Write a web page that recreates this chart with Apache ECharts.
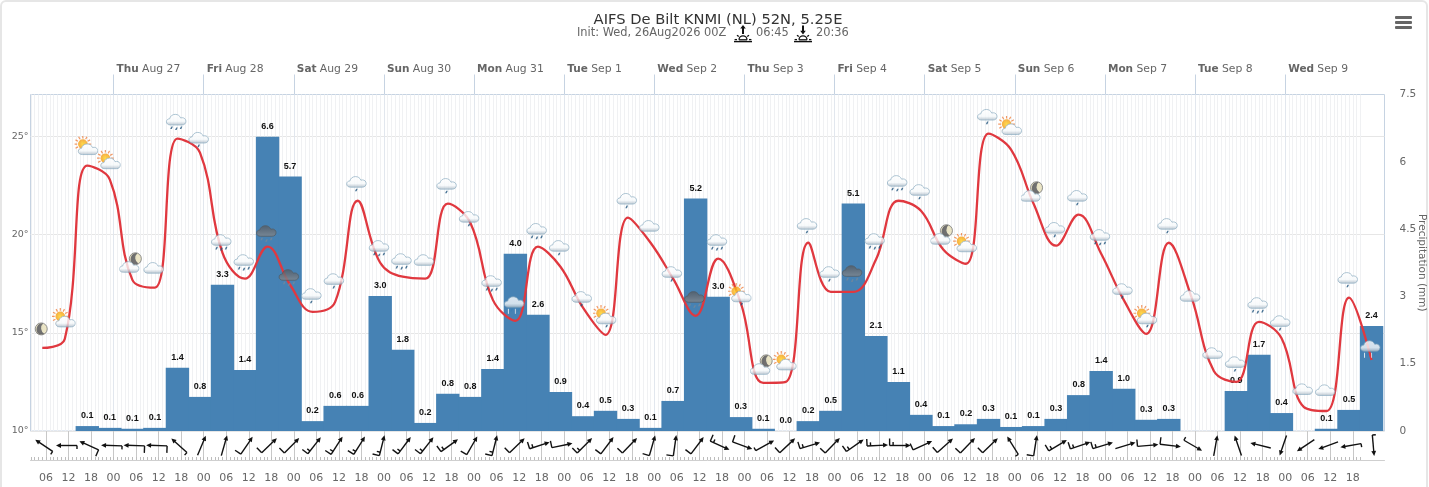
<!DOCTYPE html>
<html><head><meta charset="utf-8">
<style>
html,body{margin:0;padding:0;background:#fff;overflow:hidden}
#card{position:absolute;left:0;top:0;width:1424px;height:490px;border:2px solid #e6e6e6;border-radius:6px;box-sizing:content-box}
#chart{position:absolute;left:0;top:0;width:1429px;height:487px}
</style>
<script src="https://cdn.jsdelivr.net/npm/echarts@6/dist/echarts.min.js"></script>
</head><body><div id="card"></div><div id="chart"></div>
<script>
// ---- data ----
const titleText = 'AIFS De Bilt KNMI (NL) 52N, 5.25E';
const initText = 'Init: Wed, 26Aug2026 00Z';
const sunriseText = '06:45';
const sunsetText = '20:36';
const dayNames = ['Thu|Aug 27','Fri|Aug 28','Sat|Aug 29','Sun|Aug 30','Mon|Aug 31','Tue|Sep 1','Wed|Sep 2','Thu|Sep 3','Fri|Sep 4','Sat|Sep 5','Sun|Sep 6','Mon|Sep 7','Tue|Sep 8','Wed|Sep 9'];
const precipValues = [0.11,0.07,0.05,0.07,1.41,0.76,3.26,1.36,6.56,5.67,0.22,0.56,0.56,3.01,1.81,0.18,0.83,0.76,1.38,3.95,2.59,0.87,0.33,0.45,0.27,0.07,0.67,5.18,2.99,0.31,0.05,0,0.22,0.45,5.07,2.12,1.09,0.36,0.11,0.15,0.27,0.09,0.11,0.27,0.80,1.34,0.94,0.25,0.27,0,0,0.89,1.70,0.40,0,0.05,0.47,2.34];
const precipLabels = ['0.1','0.1','0.1','0.1','1.4','0.8','3.3','1.4','6.6','5.7','0.2','0.6','0.6','3.0','1.8','0.2','0.8','0.8','1.4','4.0','2.6','0.9','0.4','0.5','0.3','0.1','0.7','5.2','3.0','0.3','0.1','0.0','0.2','0.5','5.1','2.1','1.1','0.4','0.1','0.2','0.3','0.1','0.1','0.3','0.8','1.4','1.0','0.3','0.3','','','0.9','1.7','0.4','','0.1','0.5','2.4'];
const tempValues = [14.23,14.69,23.52,22.81,17.70,17.30,24.90,24.18,19.08,17.76,19.39,17.45,16.07,16.58,21.73,18.57,17.86,17.76,21.58,20.61,16.68,15.61,19.39,18.37,16.28,14.90,20.87,19.59,17.76,15.87,18.78,16.53,12.45,12.50,19.59,17.09,17.09,18.72,21.73,21.22,19.23,18.52,25.15,24.34,21.58,19.44,21.02,19.03,16.68,14.95,19.59,16.84,13.06,12.50,15.56,14.74,11.22,11.02,16.79,13.62];
const iconLevels = [15.20,15.66,24.44,23.72,18.52,18.27,25.82,24.90,19.69,18.67,20.15,17.91,16.94,17.70,22.65,19.39,18.72,18.67,22.55,20.87,17.60,16.53,20.26,19.39,16.79,15.82,21.79,20.41,18.06,16.79,19.69,16.94,13.32,13.47,20.51,18.06,18.11,19.74,22.70,22.24,19.95,19.49,26.07,25.46,22.14,20.31,21.94,19.95,17.19,15.82,20.51,16.84,13.93,13.47,16.48,15.56,12.09,12.04,17.76,14.29];
const iconKinds = ['moon','sun','sun','sun','mooncloud','cloud','rain2','rain1','rain2','rain2','thunder','thunder','rain1','rain1','rain1','rain2','rain2','cloud','rain1','rain1','rain2','heavy','rain2','rain1','rain1','sunrain','rain1','cloud','rain1','thunder','rain2','sunrain','mooncloud','sun','rain1','rain1','thunder','rain2','rain2','rain1','mooncloud','sun','rain1','sun','mooncloud','rain1','rain1','rain2','rain1','sunrain','rain1','cloud','cloud','rain1','rain2','rain1','cloud','cloud','rain1','heavy'];
const windDir = [304,270,294,272,272,272,312,23,16,34,46,45,38,33,32,14,37,38,54,30,14,46,72,78,45,37,44,16,8,37,114,110,61,47,73,44,55,87,90,65,48,44,46,328,9,59,71,73,73,85,97,120,10,341,284,199,236,250,260,175];
const windBarbs = [1,1,2,1,2,2,1,0,0,2,2,2,3,3,3,3,3,3,3,2,3,2,3,2,3,2,2,2,2,2,3,2,1,2,3,2,3,3,3,2,2,2,2,1,2,3,3,3,0,2,2,1,0,0,0,0,0,0,1,1];

// ---- time axis helpers (hours since 26 Aug 00Z) ----
const xMin = 1.87, xMax = 362.45;
const tempHours = tempValues.map((_, i) => 5 + 6 * i);
const barHours = precipValues.map((_, i) => 17 + 6 * i);
const hourTicks = []; for (let h = 2; h <= 356; h++) hourTicks.push(h);
const sixTicks = []; for (let h = 6; h <= 354; h += 6) sixTicks.push(h);
const dayTicks = dayNames.map((_, i) => 24 * (i + 1));

const FONT = '"DejaVu Sans"';
const GREY = '#666666';

// ---- icons ----
const cloudPath = (fill) => `<path d="M6 16.5c-2.6 0-4-1.5-4-3.2 0-1.9 1.5-3 3.2-3 .5-2.6 2.7-4.4 5.6-4.4 2.6 0 4.6 1.4 5.4 3.6 .5-.2 1-.3 1.6-.3 2 0 3.7 1.6 3.7 3.5 0 2.2-1.6 3.8-3.9 3.8z" fill="url(#${fill})" stroke="${fill === 'd' ? '#555' : '#7fa3ba'}" stroke-width=".8"/>`;
const defs = '<defs><linearGradient id="w" x1="0" y1="0" x2="0" y2="1"><stop offset="0" stop-color="#fff"/><stop offset=".65" stop-color="#f6f9fb"/><stop offset="1" stop-color="#aebcc8"/></linearGradient><linearGradient id="d" x1="0" y1="0" x2="0" y2="1"><stop offset="0" stop-color="#555a61"/><stop offset="1" stop-color="#83888e"/></linearGradient><radialGradient id="s"><stop offset="0" stop-color="#ffd21f"/><stop offset="1" stop-color="#f59a16"/></radialGradient></defs>';
const drop = (x, y, c) => `<path d="M${x} ${y}l-1.2 2.6h1.6l1.1-2.6z" fill="${c || '#1f537c'}"/>`;
const rays = Array.from({length: 12}, (_, i) => { const a = i * Math.PI / 6; return `<line x1="${(8.5 + 5.6 * Math.cos(a)).toFixed(1)}" y1="${(8.5 + 5.6 * Math.sin(a)).toFixed(1)}" x2="${(8.5 + 8.4 * Math.cos(a)).toFixed(1)}" y2="${(8.5 + 8.4 * Math.sin(a)).toFixed(1)}" stroke="#ef7f3e" stroke-width="1.2"/>`; }).join('');
const sunPart = `${rays}<circle cx="8.5" cy="8.5" r="4.8" fill="url(#s)"/>`;
const moonPart = (x, y) => `<circle cx="${x}" cy="${y}" r="6" fill="#e6dfb8" stroke="#555" stroke-width=".8"/><path d="M${x + 2} ${y - 5.6}a6 6 0 0 0 -4 11a6.5 6.5 0 0 0 5 -.6a6.5 6.5 0 0 1 -1 -10.4z" fill="#4d4d4d"/>`;
const shiftG = (dx, dy, s) => `<g transform="translate(${dx} ${dy})">${s}</g>`;
const iconSvg = {
  moon: moonPart(12, 12),
  cloud: cloudPath('w'),
  rain1: cloudPath('w') + drop(11.5, 18),
  rain2: cloudPath('w') + drop(7, 18) + drop(11.8, 19) + drop(16.5, 18),
  thunder: cloudPath('d') + drop(7, 18, '#789') + drop(11.8, 19.5, '#789') + drop(16.5, 18, '#789'),
  heavy: cloudPath('w') + '<line x1="6" y1="18" x2="6" y2="23" stroke="#fff" stroke-width="1"/>' + drop(9, 18, '#3c7fb5') + '<line x1="13" y1="18" x2="13" y2="23" stroke="#dfe8ee" stroke-width="1"/>' + drop(16, 18, '#3c7fb5'),
  sun: sunPart + shiftG(2, 2.5, cloudPath('w')),
  sunrain: sunPart + shiftG(2, 2.5, cloudPath('w')) + drop(14, 20),
  mooncloud: moonPart(16, 7) + shiftG(-2, 4, cloudPath('w'))
};
const iconImage = (k) => 'image://data:image/svg+xml;charset=utf-8,' + encodeURIComponent(`<svg xmlns="http://www.w3.org/2000/svg" width="72" height="72" viewBox="0 0 24 24">${defs}${iconSvg[k]}</svg>`);
const iconSeries = Object.keys(iconSvg).map(k => ({
  type: 'scatter', xAxisIndex: 0, yAxisIndex: 0, silent: true, z: 6,
  symbol: iconImage(k), symbolSize: 24, symbolOffset: [-1, 0],
  data: tempHours.map((h, i) => iconKinds[i] === k ? [h, iconLevels[i]] : null).filter(Boolean)
}));

const sunIcon = (up) => 'data:image/svg+xml;charset=utf-8,' + encodeURIComponent(`<svg xmlns="http://www.w3.org/2000/svg" width="54" height="54" viewBox="0 0 18 18"><g stroke="#111" fill="none" stroke-width="1.3"><line x1="0" y1="16.6" x2="18" y2="16.6" stroke-width="1.4"/><path d="M5 14.8a4 4 0 0 1 8 0" /><line x1="5" y1="14.8" x2="13" y2="14.8"/><line x1="0.6" y1="14.6" x2="3" y2="14.6"/><line x1="15" y1="14.6" x2="17.4" y2="14.6"/><line x1="3" y1="10.2" x2="4.8" y2="11.6"/><line x1="15" y1="10.2" x2="13.2" y2="11.6"/></g>${up ? '<path d="M9 0L6.2 3.6H8V9H10V3.6H11.8z" fill="#111"/>' : '<path d="M9 9.4L6.2 5.8H8V0.4H10V5.8H11.8z" fill="#111"/>'}</svg>`);

const chart = echarts.init(document.getElementById('chart'), null, {renderer: 'canvas'});
const hiddenX = {type: 'value', min: xMin, max: xMax, axisLine: {show: false}, axisTick: {show: false}, axisLabel: {show: false}, splitLine: {show: false}};
chart.setOption({
  animation: false,
  backgroundColor: 'transparent',
  title: {text: titleText, left: 713, textAlign: 'center', top: 8,
    textStyle: {fontFamily: FONT, fontSize: 14.7, fontWeight: 'normal', color: '#333'}},
  grid: [
    {left: 30.5, top: 94.5, width: 1354, height: 336.5, outerBoundsMode: 'none', show: true, borderColor: '#c6d3e2', borderWidth: 1, backgroundColor: 'transparent'},
    {left: 30.5, top: 431, width: 1354, height: 29, outerBoundsMode: 'none'}
  ],
  xAxis: [
    Object.assign({}, hiddenX, {gridIndex: 0, position: 'bottom',
      axisTick: {show: false, customValues: hourTicks},
      splitLine: {show: true, lineStyle: {color: '#f0f1f3', width: 1}}}),
    Object.assign({}, hiddenX, {gridIndex: 0, position: 'top',
      axisTick: {show: true, customValues: dayTicks, length: 20, lineStyle: {color: '#c6d3e2'}},
      axisLabel: {show: true, customValues: dayTicks, margin: 19, align: 'left', padding: [0, 0, 0, 3],
        hideOverlap: false, showMinLabel: true, showMaxLabel: true,
        formatter: (v) => { const p = dayNames[v / 24 - 1].split('|'); return `{b|${p[0]}} {n|${p[1]}}`; },
        rich: {b: {fontFamily: FONT, fontSize: 10.5, fontWeight: 'bold', color: GREY},
               n: {fontFamily: FONT, fontSize: 10.8, color: GREY}}},
      splitLine: {show: true, lineStyle: {color: '#e2e7ee', width: 1}}}),
    Object.assign({}, hiddenX, {gridIndex: 1, position: 'bottom',
      axisLine: {show: false},
      axisTick: {show: false, customValues: sixTicks},
      splitLine: {show: true, lineStyle: {color: '#c8c8c8', width: 1}},
      axisLabel: {show: true, customValues: sixTicks, margin: 13, hideOverlap: false,
        formatter: (v) => String(v % 24).padStart(2, '0'),
        fontFamily: FONT, fontSize: 11, color: GREY}}),
    Object.assign({}, hiddenX, {gridIndex: 1, position: 'bottom',
      axisLine: {show: true, lineStyle: {color: '#cfcfcf', width: 1, type: 'solid'}},
      axisTick: {show: true, customValues: hourTicks, inside: true, length: 3, lineStyle: {color: '#bdbdbd'}}})
  ],
  yAxis: [
    {type: 'value', gridIndex: 0, min: 10, max: 27.143, position: 'left',
      axisLine: {show: false}, axisTick: {show: false, customValues: [10, 15, 20, 25]},
      axisLabel: {customValues: [10, 15, 20, 25], margin: 2, padding: [6, 0, 0, 0], formatter: (v) => v + '°', fontFamily: FONT, fontSize: 9.5, color: GREY, hideOverlap: false},
      splitLine: {show: true, lineStyle: {color: '#e6e6e6', width: 1}}},
    {type: 'value', gridIndex: 0, min: 0, max: 7.5, interval: 1.5, position: 'right',
      axisLine: {show: false}, axisTick: {show: false}, splitLine: {show: false},
      axisLabel: {margin: 15, padding: [6, 0, 0, 0], fontFamily: FONT, fontSize: 10.5, color: GREY, formatter: (v) => String(v)},
      name: 'Precipitation (mm)', nameLocation: 'middle', nameRotate: -90, nameGap: 32, nameMoveOverlap: false,
      nameTextStyle: {fontFamily: FONT, fontSize: 10.5, color: GREY}},
    {type: 'value', gridIndex: 1, min: 0, max: 1, show: false}
  ],
  series: [
    {type: 'bar', xAxisIndex: 0, yAxisIndex: 1, silent: true, z: 2, barWidth: 23.4,
      itemStyle: {color: '#4682b4'},
      label: {show: true, position: 'top', distance: 6, fontFamily: '"Liberation Sans"', fontSize: 9, fontWeight: 'bold', color: '#111',
        formatter: (p) => precipLabels[p.dataIndex]},
      data: barHours.map((h, i) => [h, precipValues[i]])},
    {type: 'line', xAxisIndex: 0, yAxisIndex: 0, silent: true, z: 4, showSymbol: false, symbol: 'none',
      smooth: 0.4,
      lineStyle: {color: '#e0383f', width: 2.3},
      data: tempHours.map((h, i) => [h, tempValues[i]])},
    ...iconSeries,
    {type: 'custom', xAxisIndex: 2, yAxisIndex: 2, silent: true, z: 5, clip: false,
      data: tempHours.map((h, i) => [h, 0.5, windDir[i], windBarbs[i]]),
      renderItem: (params, api) => {
        const c = api.coord([api.value(0), api.value(1)]);
        const a = api.value(2) * Math.PI / 180, n = api.value(3);
        const ux = Math.sin(a), uy = -Math.cos(a);      // toward the head
        const lx = uy, ly = -ux;                         // left of the heading
        const cx = c[0] + 1.7, cy = c[1];
        const hx = cx + ux * 10.5, hy = cy + uy * 10.5, tx = cx - ux * 10.5, ty = cy - uy * 10.5;
        const st = {stroke: '#111', lineWidth: 1.4, fill: null};
        const kids = [{type: 'line', shape: {x1: tx, y1: ty, x2: hx - ux * 3, y2: hy - uy * 3}, style: st},
          {type: 'polygon', shape: {points: [[hx, hy], [hx - ux * 5 + lx * 2.4, hy - uy * 5 + ly * 2.4], [hx - ux * 5 - lx * 2.4, hy - uy * 5 - ly * 2.4]]}, style: {fill: '#111'}}];
        if (n === 1) kids.push({type: 'line', shape: {x1: tx, y1: ty, x2: tx + lx * 3.5, y2: ty + ly * 3.5}, style: st});
        if (n >= 2) kids.push({type: 'line', shape: {x1: tx, y1: ty, x2: tx + lx * 7, y2: ty + ly * 7}, style: st});
        if (n === 3) { const bx = tx + ux * 3.5, by = ty + uy * 3.5; kids.push({type: 'line', shape: {x1: bx, y1: by, x2: bx + lx * 3.5, y2: by + ly * 3.5}, style: st}); }
        return {type: 'group', children: kids};
      }}
  ],
  graphic: [
    {type: 'text', left: 577, top: 28, style: {text: initText, font: '11.4px ' + FONT, fill: GREY}},
    {type: 'image', left: 734, top: 25, style: {image: sunIcon(true), width: 18, height: 18}},
    {type: 'text', left: 756, top: 28, style: {text: sunriseText, font: '11.4px ' + FONT, fill: GREY}},
    {type: 'image', left: 794, top: 25, style: {image: sunIcon(false), width: 18, height: 18}},
    {type: 'text', left: 816, top: 28, style: {text: sunsetText, font: '11.4px ' + FONT, fill: GREY}},
    {type: 'rect', left: 1395, top: 16, shape: {width: 17, height: 3, r: 1}, style: {fill: GREY}},
    {type: 'rect', left: 1395, top: 21, shape: {width: 17, height: 3, r: 1}, style: {fill: GREY}},
    {type: 'rect', left: 1395, top: 26, shape: {width: 17, height: 3, r: 1}, style: {fill: GREY}}
  ]
});
</script></body></html>
